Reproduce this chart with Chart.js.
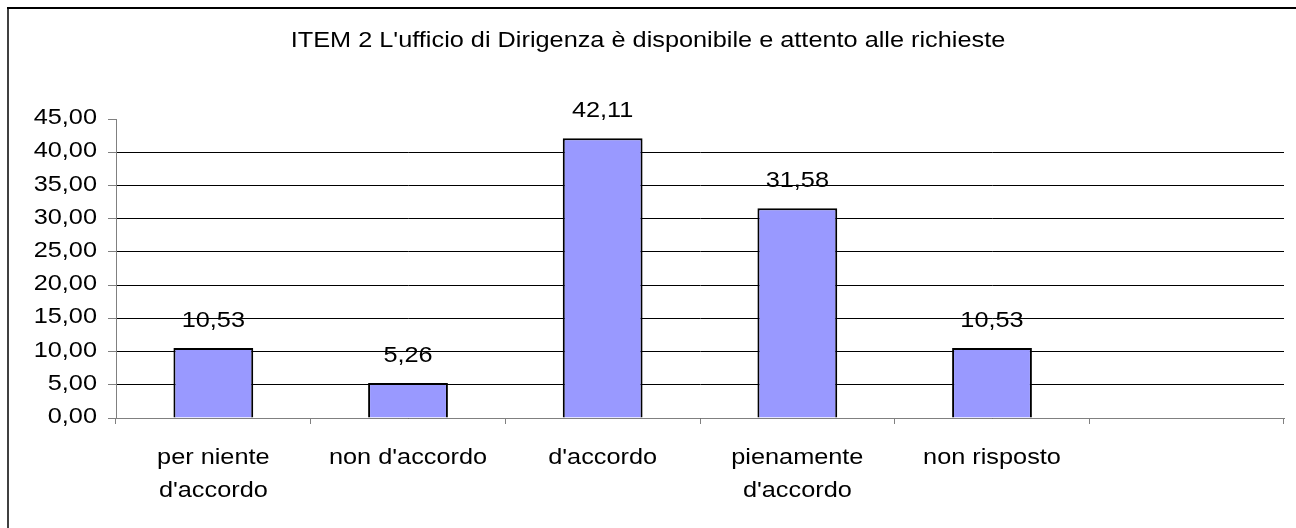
<!DOCTYPE html>
<html>
<head>
<meta charset="utf-8">
<script src="https://cdn.jsdelivr.net/npm/chart.js@4/dist/chart.umd.min.js"></script>
<style>
html,body{margin:0;padding:0;background:#fff;}
#wrap{width:1296px;height:528px;position:relative;}
</style>
</head>
<body>
<div id="wrap"><canvas id="c" width="1296" height="528"></canvas></div>
<script>
const chartTitle = "ITEM 2 L'ufficio di Dirigenza è disponibile e attento alle richieste";
const categories = [["per niente", "d'accordo"], "non d'accordo", "d'accordo", ["pienamente", "d'accordo"], "non risposto", ""];
const values = [10.53, 5.26, 42.11, 31.58, 10.53, null];
const yMin = 0, yMax = 45, yStep = 5;

const FONT = "'Liberation Sans', Arial, sans-serif";
const FONT_SIZE = 22;
const STRETCH = 1.15;
const fmt = v => v.toFixed(2).replace('.', ',');

function drawText(ctx, text, x, y, align, baseline) {
  ctx.save();
  ctx.translate(x, y);
  ctx.scale(STRETCH, 1);
  ctx.fillStyle = '#000';
  ctx.font = FONT_SIZE + 'px ' + FONT;
  ctx.textAlign = align;
  ctx.textBaseline = baseline;
  ctx.fillText(text, 0, 0);
  ctx.restore();
}

const decor = {
  id: 'decor',
  beforeDraw(chart) {
    const ctx = chart.ctx;
    ctx.save();
    ctx.fillStyle = '#fff';
    ctx.fillRect(0, 0, chart.width, chart.height);
    ctx.lineWidth = 2;
    ctx.strokeStyle = '#000';
    ctx.beginPath();
    ctx.moveTo(7, 8);
    ctx.lineTo(chart.width + 2, 8);
    ctx.stroke();
    ctx.strokeStyle = '#404040';
    ctx.beginPath();
    ctx.moveTo(8, 9);
    ctx.lineTo(8, chart.height + 2);
    ctx.stroke();
    ctx.restore();
    drawText(ctx, chartTitle, 648, 47, 'center', 'alphabetic');
  },
  afterDraw(chart) {
    const ctx = chart.ctx;
    // y tick labels
    const ys = chart.scales.y;
    ys.ticks.forEach((t, i) => {
      drawText(ctx, fmt(t.value), ys.left + 87, ys.getPixelForTick(i) - 1, 'right', 'middle');
    });
    // x tick labels
    const xs = chart.scales.x;
    xs.ticks.forEach((t, i) => {
      const lab = categories[i];
      const lines = Array.isArray(lab) ? lab : [lab];
      const x = xs.getPixelForTick(i);
      lines.forEach((ln, j) => {
        if (ln) drawText(ctx, ln, x, xs.top + 40 + j * 33, 'center', 'middle');
      });
    });
    // value labels
    const meta = chart.getDatasetMeta(0);
    meta.data.forEach((bar, i) => {
      const v = values[i];
      if (v === null || v === undefined) return;
      drawText(ctx, fmt(v), bar.x, bar.y - 21, 'center', 'alphabetic');
    });
  }
};

new Chart(document.getElementById('c'), {
  type: 'bar',
  data: {
    labels: categories,
    datasets: [{
      data: values,
      backgroundColor: '#9999FF',
      borderColor: '#000000',
      borderWidth: 2,
      categoryPercentage: 1,
      barPercentage: 0.41
    }]
  },
  options: {
    responsive: false,
    animation: false,
    devicePixelRatio: 1,
    layout: { padding: { top: 119, left: 10, right: 12, bottom: 0 } },
    plugins: { legend: { display: false }, title: { display: false }, tooltip: { enabled: false } },
    scales: {
      x: {
        offset: true,
        grid: {
          offset: true,
          drawOnChartArea: false,
          drawTicks: true,
          tickLength: 6,
          tickColor: '#808080',
          lineWidth: 1
        },
        border: { color: '#808080', width: 1 },
        ticks: { display: false, autoSkip: false, maxRotation: 0 },
        afterFit(scale) { scale.height = 110; }
      },
      y: {
        min: yMin,
        max: yMax,
        ticks: { stepSize: yStep, display: false },
        grid: {
          color: ctx => (ctx.tick && ctx.tick.value === yMax) ? 'rgba(0,0,0,0)' : '#000',
          tickColor: '#808080',
          tickLength: 8,
          lineWidth: 1
        },
        border: { color: '#808080', width: 1 },
        afterFit(scale) { scale.width = 106; }
      }
    }
  },
  plugins: [decor]
});
</script>
</body>
</html>
